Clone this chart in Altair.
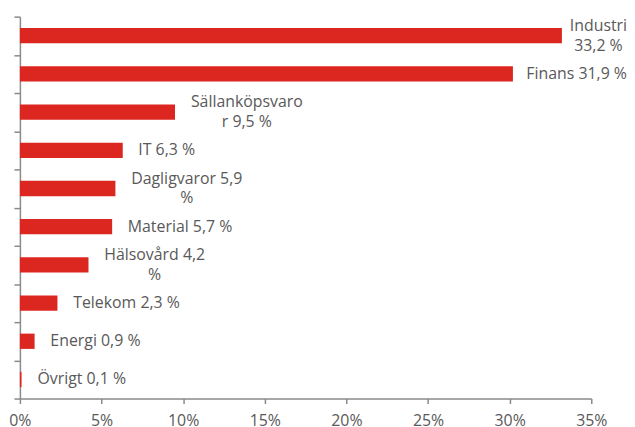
import altair as alt
import pandas as pd

categories = ["Industri", "Finans", "Sällanköpsvaror", "IT", "Dagligvaror",
              "Material", "Hälsovård", "Telekom", "Energi", "Övrigt"]
bar_values = [33.2, 30.2, 9.5, 6.3, 5.85, 5.65, 4.2, 2.3, 0.9, 0.1]
labels = ["Industri\n33,2 %", "Finans 31,9 %", "Sällanköpsvaro\nr 9,5 %", "IT 6,3 %",
          "Dagligvaror 5,9\n%", "Material 5,7 %", "Hälsovård 4,2\n%", "Telekom 2,3 %",
          "Energi 0,9 %", "Övrigt 0,1 %"]
x_ticks = [0, 5, 10, 15, 20, 25, 30, 35]

FONT = "Open Sans"
FS = 16
LH = 20
W, H = 576, 385
XMAX = 35
PX = W / XMAX
PY = H / 10

# approximate Open Sans advance widths (em)
CW = {' ': .26, '%': .828, ',': .245, 'a': .556, 'b': .613, 'd': .613, 'e': .561,
      'g': .548, 'i': .253, 'k': .525, 'l': .253, 'm': .93, 'n': .614, 'o': .604,
      'p': .613, 'r': .408, 's': .477, 't': .353, 'u': .614, 'v': .501, 'å': .556,
      'ä': .556, 'ö': .604, 'D': .708, 'E': .545, 'F': .524, 'H': .725, 'I': .266,
      'M': .88, 'S': .536, 'T': .534, 'Ö': .78}


def text_w(s):
    return max(sum(CW.get(c, .572) for c in line) for line in s.split("\n")) * FS


rows = []
for i, (c, v, lab) in enumerate(zip(categories, bar_values, labels)):
    w = text_w(lab)
    nlines = lab.count("\n") + 1
    center = v * PX + 16 + w / 2
    center = min(center, 612 - w / 2)
    rows.append({"cat": c, "zero": 0, "value": v, "label": lab,
                 "top": i + 0.3, "bot": i + 0.7,
                 "mid": i + 0.5 - (nlines - 1) * (LH / 2) / PY,
                 "lx": center / PX})
df = pd.DataFrame(rows)

yscale = alt.Scale(domain=[0, 10], reverse=True)
xscale = alt.Scale(domain=[0, XMAX])
xaxis = alt.Axis(values=x_ticks, labelExpr="datum.value + '%'", title=None,
                 grid=False, tickSize=5, labelPadding=9, labelFlush=False)
yaxis = alt.Axis(values=list(range(11)), labels=False, title=None,
                 grid=False, tickSize=6)

bars = alt.Chart(df).mark_rect(color="#DC2620").encode(
    x=alt.X("zero:Q", scale=xscale, axis=xaxis),
    x2="value:Q",
    y=alt.Y("top:Q", scale=yscale, axis=yaxis),
    y2="bot:Q",
)

text = alt.Chart(df).mark_text(
    font=FONT, fontSize=FS, color="#595959", align="center", baseline="middle",
    lineBreak="\n", lineHeight=LH
).encode(
    x=alt.X("lx:Q", scale=xscale, axis=xaxis),
    y=alt.Y("mid:Q", scale=yscale, axis=yaxis),
    text="label:N",
)

chart = (bars + text).properties(
    width=W, height=H,
    autosize=alt.AutoSizeParams(type="none"),
    padding={"left": 12, "top": 7, "right": 36, "bottom": 30},
).configure_view(stroke=None).configure_axis(
    domainColor="#8a8a8a", tickColor="#8a8a8a", domainWidth=1.5, tickWidth=1.5,
    labelFont=FONT, labelFontSize=FS, labelColor="#595959",
)

chart.save("out.html", embed_options={"renderer": "svg", "actions": False})
